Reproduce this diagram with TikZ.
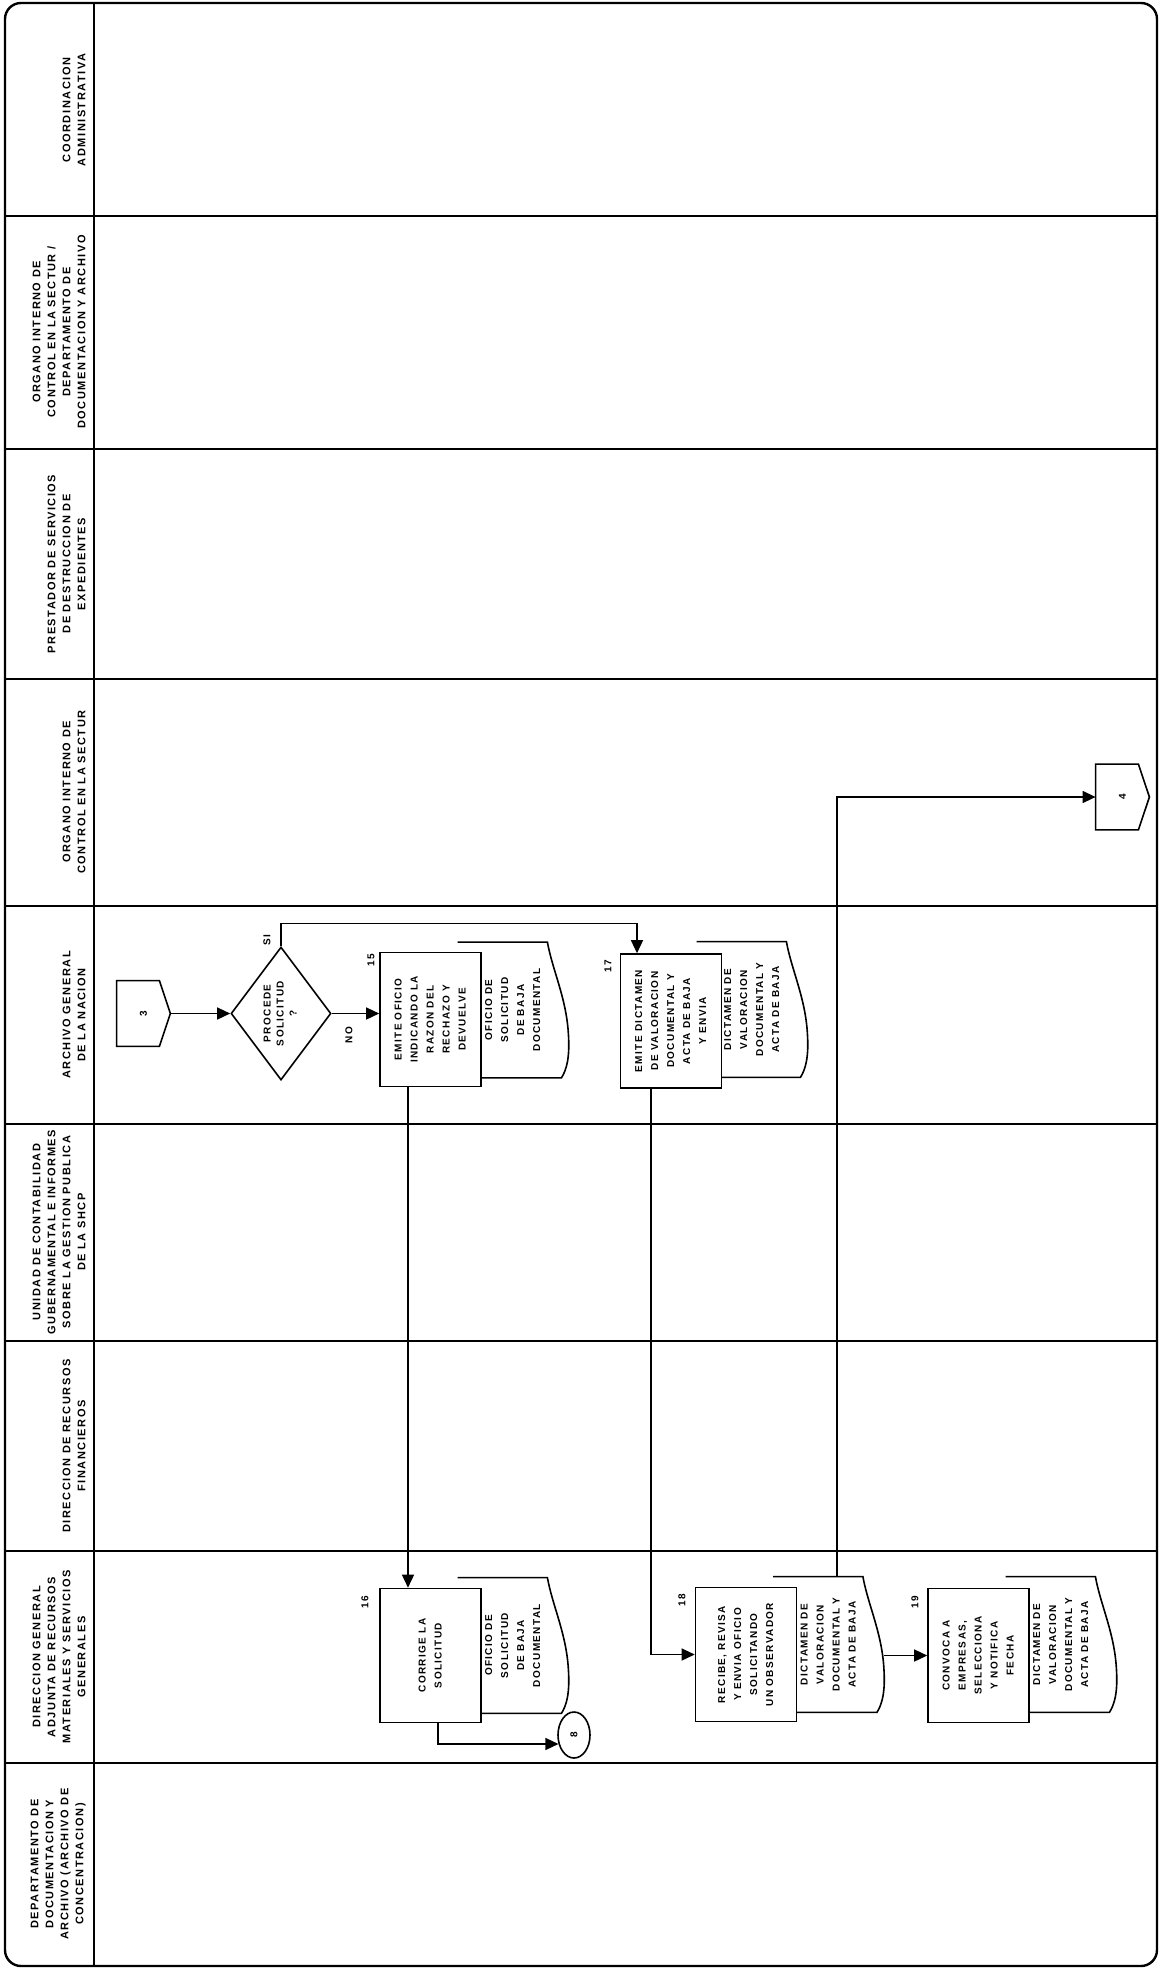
\documentclass[tikz,border=0pt]{standalone}
\usepackage{fontspec}
\usepackage{graphicx}
\usetikzlibrary{arrows.meta,shapes.geometric,calc}
\newfontfamily\flowfont[LetterSpace=14]{Liberation Sans}

% text turned a quarter turn, as in the rotated sheet
\newcommand{\vtext}[1]{\rotatebox{90}{\begin{tabular}{@{}c@{}}#1\end{tabular}}}
% wavy outline of a document, round a docu node
\newcommand{\docline}[1]{%
  \draw[line width=0.8pt] (#1.north west) -- ([xshift=-10.5pt]#1.north east)
    .. controls ([xshift=-8pt,yshift=-14pt]#1.north east) and ([xshift=-1pt,yshift=-28pt]#1.north east)
    .. ([yshift=-46pt]#1.north east)
    .. controls ([xshift=0.8pt,yshift=-58pt]#1.north east) and ([xshift=-1pt,yshift=-64pt]#1.north east)
    .. ([xshift=-3.5pt]#1.south east) -- (#1.south west);}
% off-page connector pointing right
\newcommand{\offpage}[1]{%
  \draw[line width=0.8pt] (#1.north west) -- ([xshift=-5.5pt]#1.north east) -- (#1.east)
    -- ([xshift=-5.5pt]#1.south east) -- (#1.south west) -- cycle;}

\tikzset{
  lane/.style={rotate=90, anchor=south, inner sep=0pt, align=center,
    font=\flowfont\bfseries\fontsize{5.5}{7.5}\selectfont},
  task/.style={draw, fill=white, line width=0.8pt, minimum width=50.5pt,
    minimum height=67pt, inner sep=0pt, font=\flowfont\bfseries\fontsize{5}{8}\selectfont},
  docu/.style={minimum width=55pt, minimum height=67.5pt, inner sep=0pt,
    font=\flowfont\bfseries\fontsize{5}{8}\selectfont},
  decision/.style={diamond, aspect=0.75, draw, line width=0.8pt, minimum width=50pt,
    minimum height=66.5pt, inner sep=0pt, font=\flowfont\bfseries\fontsize{5}{6.5}\selectfont},
  connect/.style={minimum width=26.5pt, minimum height=32.5pt, inner sep=0pt,
    font=\flowfont\bfseries\fontsize{5}{6}\selectfont},
  stepnum/.style={rotate=90, inner sep=0pt, font=\flowfont\bfseries\fontsize{5}{6}\selectfont},
  arr/.style={line width=0.7pt, -{Triangle[length=6.5pt,width=6pt]}},
}

\begin{document}
\begin{tikzpicture}[x=0.5pt,y=-0.5pt]
\useasboundingbox (0,0) rectangle (1160,1969);
% frame, name column and lanes
\draw[line width=1.2pt, rounded corners=8pt] (5,3) rectangle (1157,1966);
\draw[line width=0.8pt] (94,3) -- (94,1966);
\foreach \y in {216,449,679,906,1124,1341,1551,1763}
  \draw[line width=0.8pt] (5,\y) -- (1157,\y);

% lane names
\node[lane] (l1) at (86,110) {COORDINACION\\ADMINISTRATIVA};
\node[lane] (l2) at (86,332) {ORGANO INTERNO DE\\CONTROL EN LA SECTUR /\\DEPARTAMENTO DE\\DOCUMENTACION Y ARCHIVO};
\node[lane] (l3) at (86,564) {PRESTADOR DE SERVICIOS\\DE DESTRUCCION DE\\EXPEDIENTES};
\node[lane] (l4) at (86,792) {ORGANO INTERNO DE\\CONTROL EN LA SECTUR};
\node[lane] (l5) at (86,1015) {ARCHIVO GENERAL\\DE LA NACION};
\node[lane] (l6) at (86,1232) {UNIDAD DE CONTABILIDAD\\GUBERNAMENTAL E INFORMES\\SOBRE LA GESTION PUBLICA\\DE LA SHCP};
\node[lane] (l7) at (86,1446) {DIRECCION DE RECURSOS\\FINANCIEROS};
\node[lane] (l8) at (86,1657) {DIRECCION GENERAL\\ADJUNTA DE RECURSOS\\MATERIALES Y SERVICIOS\\GENERALES};
\node[lane] (l9) at (86,1864) {DEPARTAMENTO DE\\DOCUMENTACION Y\\ARCHIVO (ARCHIVO DE\\CONCENTRACION)};

% archivo general: connector 3, decision, 15 and 17
\node[connect] (c3) at (143.5,1013.5) {\rotatebox{90}{3}};
\offpage{c3}
\node[decision] (dec) at (281,1013.5) {\vtext{PROCEDE\\SOLICITUD\\?}};
\node[stepnum] (si) at (267,940) {SI};
\node[stepnum] (no) at (349,1035) {NO};

\node[docu] (d15) at (513,1010) {\vtext{OFICIO DE\\SOLICITUD\\DE BAJA\\DOCUMENTAL}};
\docline{d15}
\node[task] (b15) at (430.5,1019.5) {\vtext{EMITE OFICIO\\INDICANDO LA\\RAZON DEL\\RECHAZO Y\\DEVUELVE}};
\node[stepnum] (n15) at (371,960) {15};

\node[docu] (d17) at (752,1009.5) {\vtext{DICTAMEN DE\\VALORACION\\DOCUMENTAL Y\\ACTA DE BAJA}};
\docline{d17}
\node[task] (b17) at (671,1021) {\vtext{EMITE DICTAMEN\\DE VALORACION\\DOCUMENTAL Y\\ACTA DE BAJA\\Y ENVIA}};
\node[stepnum] (n17) at (608,966) {17};

% organo interno: connector 4
\node[connect] (c4) at (1122.5,797) {\rotatebox{90}{4}};
\offpage{c4}

% direccion general adjunta: 16, 18, 19
\node[docu] (d16) at (513,1645.5) {\vtext{OFICIO DE\\SOLICITUD\\DE BAJA\\DOCUMENTAL}};
\docline{d16}
\node[task] (b16) at (430.5,1655.5) {\vtext{CORRIGE LA\\SOLICITUD}};
\node[stepnum] (n16) at (365,1602) {16};
\node[draw, ellipse, line width=0.8pt, minimum width=16pt, minimum height=23pt,
  inner sep=0pt, font=\flowfont\bfseries\fontsize{5}{6}\selectfont] (c8) at (574,1735) {\rotatebox{90}{8}};

\node[docu] (d18) at (828.5,1644.5) {\vtext{DICTAMEN DE\\VALORACION\\DOCUMENTAL Y\\ACTA DE BAJA}};
\docline{d18}
\node[task] (b18) at (746,1654.5) {\vtext{RECIBE, REVISA\\Y ENVIA OFICIO\\SOLICITANDO\\UN OBSERVADOR}};
\node[stepnum] (n18) at (682,1600) {18};

\node[docu] (d19) at (1061,1644.5) {\vtext{DICTAMEN DE\\VALORACION\\DOCUMENTAL Y\\ACTA DE BAJA}};
\docline{d19}
\node[task] (b19) at (978.5,1655.5) {\vtext{CONVOCA A\\EMPRESAS,\\SELECCIONA\\Y NOTIFICA\\FECHA}};
\node[stepnum] (n19) at (915,1602) {19};

% flow
\draw[arr] (c3.east) -- (dec.west);
\draw[arr] (dec.east) -- (dec.east -| b15.west);
\draw[arr] (dec.north) -- ++(0,-23) -| ([xshift=-17pt]b17.north);
\draw[arr] ([xshift=-11.25pt]b15.south) -- ([xshift=-11.25pt]b16.north);
\draw[arr] ([xshift=3.75pt]b16.south) |- (c8.210);
\draw[arr] ([xshift=-10pt]b17.south) |- (b18.west);
\draw[arr] ([xshift=4.25pt]d18.north) |- (c4.west);
\draw[arr] (d18.east |- b19.west) -- (b19.west);
\end{tikzpicture}
\end{document}
